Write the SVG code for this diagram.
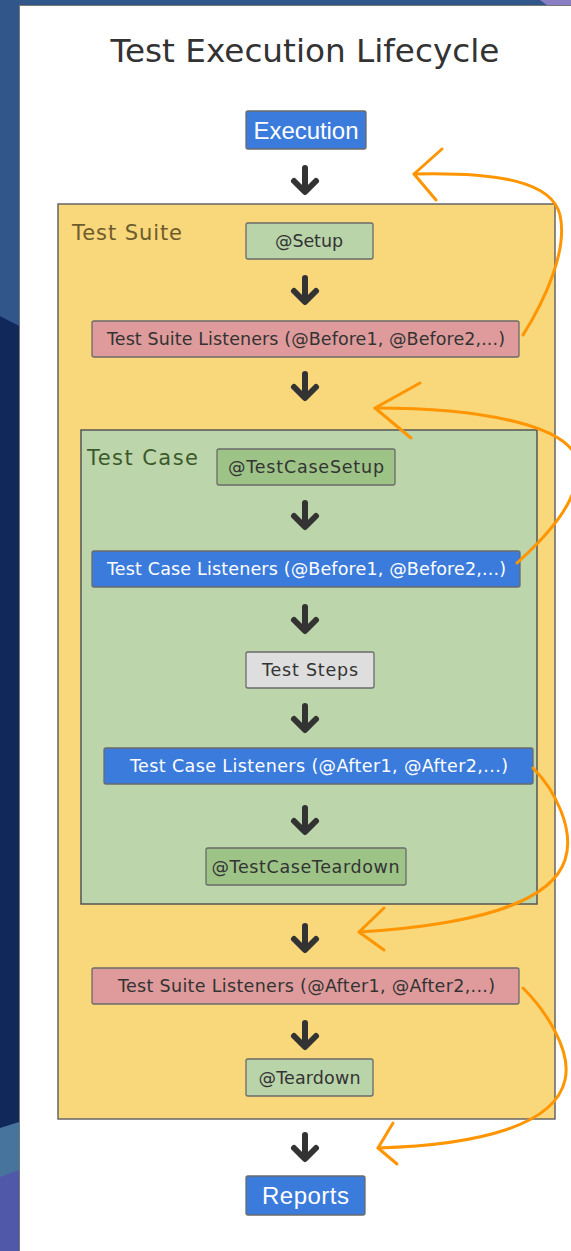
<svg xmlns="http://www.w3.org/2000/svg" width="571" height="1251" viewBox="0 0 571 1251">
<style>
.box{stroke:#6b6b6b;stroke-width:1.3}
.blue{fill:#3b7bdc}
.pink{fill:#df9b9b}
.lg{fill:#bad4aa}
.dg{fill:#9dc387}
.gray{fill:#dedede}
.t{font-family:"DejaVu Sans",Verdana,sans-serif;font-size:17.5px;fill:#333;text-anchor:middle}
.tw{fill:#fff}
.big{font-family:"Liberation Sans",Arial,sans-serif;font-size:24px;fill:#fff;text-anchor:middle}
.lbl{font-family:"DejaVu Sans",Verdana,sans-serif;font-size:21px}
.dn{fill:none;stroke:#333;stroke-width:6;stroke-linecap:round;stroke-linejoin:round}
.or{fill:none;stroke:#ff9500;stroke-width:3;stroke-linecap:round;stroke-linejoin:round}
</style>
<defs>
<g id="dnarrow"><path class="dn" d="M0,-12 V11 M-11,1 L0,12 L11,1"/></g>
</defs>
<!-- background -->
<rect x="0" y="0" width="571" height="1251" fill="#10285a"/>
<polygon points="0,0 571,0 571,6 19,6 19,326 0,316" fill="#31568a"/>
<polygon points="540,0 571,0 571,6 548,6" fill="#8a7fc4"/>
<polygon points="0,1128 19,1122 19,1251 0,1251" fill="#46749c"/>
<polygon points="0,1177 19,1170 19,1251 0,1251" fill="#5059a9"/>
<rect x="19.5" y="5.5" width="560" height="1260" fill="#fff" stroke="#777" stroke-width="1"/>
<text x="305" y="62" font-family="'DejaVu Sans',Verdana,sans-serif" font-size="32.7" fill="#333" text-anchor="middle">Test Execution Lifecycle</text>

<g id="test-suite">
<rect x="58" y="204" width="497" height="915" fill="#f9d77b" stroke="#666" stroke-width="1.5"/>
<text class="lbl" x="72" y="240" fill="#6d5c2c" textLength="110">Test Suite</text>
</g>
<g id="test-case">
<rect x="81" y="430" width="456" height="474" fill="#bcd5ab" stroke="#555" stroke-width="1.5"/>
<text class="lbl" x="87" y="465" fill="#3b5a2a" textLength="111">Test Case</text>
</g>

<g id="execution"><rect class="box blue" x="246" y="111" width="120" height="38" rx="2"/><text class="big" x="306" y="138.5" textLength="105">Execution</text></g>
<g id="setup"><rect class="box lg" x="246" y="223" width="127" height="36" rx="2"/><text class="t" x="309" y="247" textLength="68">@Setup</text></g>
<g id="suite-listeners-before"><rect class="box pink" x="92" y="321" width="427" height="36" rx="2"/><text class="t" x="306" y="345" textLength="398">Test Suite Listeners (@Before1, @Before2,...)</text></g>
<g id="testcase-setup"><rect class="box dg" x="217" y="449" width="178" height="36" rx="2"/><text class="t" x="306" y="473" textLength="156">@TestCaseSetup</text></g>
<g id="case-listeners-before"><rect class="box blue" x="92" y="551" width="428" height="36" rx="2"/><text class="t tw" x="306.5" y="575" textLength="399">Test Case Listeners (@Before1, @Before2,...)</text></g>
<g id="test-steps"><rect class="box gray" x="246" y="652" width="128" height="36" rx="2"/><text class="t" x="310" y="676" textLength="96">Test Steps</text></g>
<g id="case-listeners-after"><rect class="box blue" x="104" y="748" width="429" height="36" rx="2"/><text class="t tw" x="319" y="772" textLength="378">Test Case Listeners (@After1, @After2,...)</text></g>
<g id="testcase-teardown"><rect class="box dg" x="206" y="848" width="200" height="37" rx="2"/><text class="t" x="305.5" y="872.5" textLength="188">@TestCaseTeardown</text></g>
<g id="suite-listeners-after"><rect class="box pink" x="92" y="968" width="427" height="36" rx="2"/><text class="t" x="306.5" y="992" textLength="377">Test Suite Listeners (@After1, @After2,...)</text></g>
<g id="teardown"><rect class="box lg" x="246" y="1059" width="127" height="37" rx="2"/><text class="t" x="309.5" y="1083.5" textLength="102">@Teardown</text></g>
<g id="reports"><rect class="box blue" x="246" y="1176" width="119" height="39" rx="2"/><text class="big" x="305.5" y="1203.5" textLength="87">Reports</text></g>

<g id="connectors">
<use href="#dnarrow" x="305" y="180"/>
<use href="#dnarrow" x="305" y="290"/>
<use href="#dnarrow" x="305" y="386"/>
<use href="#dnarrow" x="305" y="515"/>
<use href="#dnarrow" x="305" y="619"/>
<use href="#dnarrow" x="305" y="718"/>
<use href="#dnarrow" x="305" y="820"/>
<use href="#dnarrow" x="305" y="938"/>
<use href="#dnarrow" x="305" y="1035"/>
<use href="#dnarrow" x="305" y="1147"/>
<path class="or" d="M523,335 C545,300 568,250 560,215 C552,182 500,172 414,174"/>
<polyline class="or" points="442,149 414,174 436,200"/>
<path class="or" d="M517,563 C548,535 580,500 578,465 C575,425 480,408 375,408"/>
<polyline class="or" points="420,383 375,408 411,438"/>
<path class="or" d="M533,768 C555,790 575,830 565,860 C550,905 470,925 359,932"/>
<polyline class="or" points="384,908 359,932 384,950"/>
<path class="or" d="M523,988 C545,1010 572,1050 565,1080 C555,1125 480,1145 378,1148"/>
<polyline class="or" points="393,1123 378,1148 397,1164"/>
</g>
</svg>
